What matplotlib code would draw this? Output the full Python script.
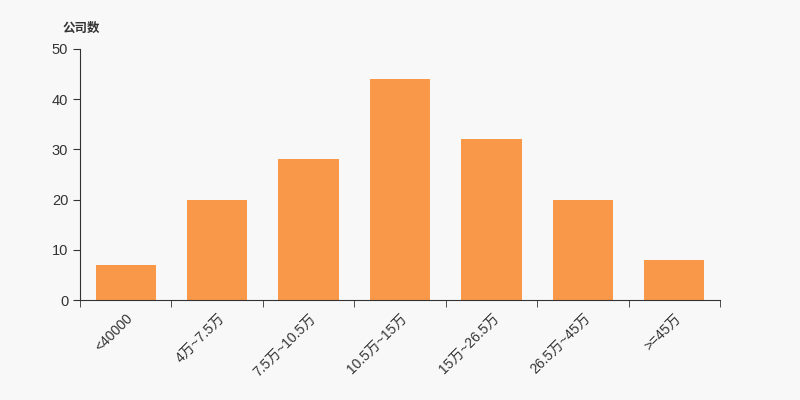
import matplotlib.pyplot as plt
import numpy as np

plt.rcParams['font.family'] = ['Liberation Sans', 'Noto Sans CJK SC', 'DejaVu Sans']

# salary ranges and number of companies
categories = ['<40000', '4万~7.5万', '7.5万~10.5万', '10.5万~15万', '15万~26.5万', '26.5万~45万', '>=45万']
counts = [7, 20, 28, 44, 32, 20, 8]

fig = plt.figure(figsize=(8, 4), dpi=100, facecolor='#f8f8f8')
ax = fig.add_axes([0.1, 0.25, 0.8, 0.6275])
ax.set_facecolor('#f8f8f8')

x = np.arange(len(categories))
ax.bar(x, counts, width=0.66, color='#f89848')

ax.set_xlim(-0.5, len(categories) - 0.5)
ax.set_ylim(0, 50)
ax.set_yticks([0, 10, 20, 30, 40, 50])

# tick marks sit on the band edges, labels under the bar centres
ax.set_xticks(x)
ax.set_xticklabels(categories, rotation=45, ha='right', rotation_mode='anchor')
ax.tick_params(axis='x', which='major', length=0, pad=8, labelsize=10, labelcolor='#333333')
ax.set_xticks(np.arange(-0.5, len(categories)), minor=True)
ax.tick_params(axis='x', which='minor', length=5, color='#333333')
ax.tick_params(axis='y', length=5, labelsize=10.5, labelcolor='#333333', color='#333333')

for side in ['top', 'right']:
    ax.spines[side].set_visible(False)
ax.spines['left'].set_color('#333333')
ax.spines['bottom'].set_color('#333333')

fig.text(0.078, 0.928, '公司数', fontsize=9, fontweight='bold', color='#333333', va='center')

fig.savefig('out.png', dpi=100, facecolor='#f8f8f8')
